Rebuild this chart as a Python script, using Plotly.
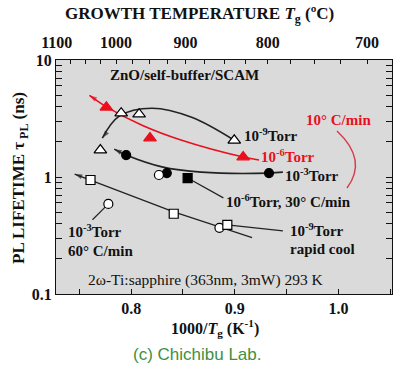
import plotly.graph_objects as go

# ---- data (1000/Tg in K^-1, PL lifetime in ns) ----
tri_open_x = [0.7703, 0.7904, 0.8077, 0.8995]
tri_open_y = [1.70, 3.51, 3.44, 2.06]
tri_red_x = [0.7761, 0.8182, 0.9081]
tri_red_y = [3.94, 2.15, 1.48]
circ_fill_x = [0.7952, 0.8344, 0.9330]
circ_fill_y = [1.54, 1.08, 1.08]
circ_open_x = [0.8268, 0.778, 0.8852]
circ_open_y = [1.04, 0.589, 0.368]
sq_fill_x = [0.8545]
sq_fill_y = [0.98]
sq_open_x = [0.7608, 0.8411, 0.8928]
sq_open_y = [0.943, 0.485, 0.390]

# guide curves (drawn right -> left so the arrow ends at the left)
curve9_x = [0.8995, 0.8584, 0.8201, 0.7885, 0.7722]
curve9_y = [2.06, 3.24, 3.87, 3.31, 2.15]
curve6_x = [0.9234, 0.9081, 0.8488, 0.8105, 0.7770, 0.7598]
curve6_y = [1.395, 1.48, 2.06, 2.77, 3.94, 4.99]
curve3_x = [0.9464, 0.9330, 0.8679, 0.8297, 0.7952, 0.7837]
curve3_y = [1.10, 1.08, 1.10, 1.22, 1.54, 1.73]
curveR_x = [0.9167, 0.8411, 0.7455]
curveR_y = [0.303, 0.504, 1.06]

# label leader lines
leaders = [
    ([0.8545, 0.889], [0.98, 0.663]),
    ([0.8928, 0.9464], [0.390, 0.347]),
    ([0.7761, 0.7627], [0.566, 0.431]),
]

top_temps = [1100, 1075, 1050, 1025, 1000, 975, 950, 925, 900, 875, 850, 825, 800, 775, 750, 725, 700]
top_labels = {1100: "1100", 1000: "1000", 900: "900", 800: "800", 700: "700"}

SERIF = "Liberation Serif, Times New Roman, serif"
RED = "#e8101e"

fig = go.Figure()


def curve(xs, ys, color, width=1.6, shape="spline"):
    n = len(xs)
    fig.add_trace(go.Scatter(
        x=xs, y=ys, mode="lines+markers", line=dict(color=color, width=width, shape=shape),
        marker=dict(symbol="arrow", angleref="previous", size=[0] * (n - 1) + [8], color=color,
                    line=dict(width=0)),
        hoverinfo="skip", showlegend=False))


curve(curve9_x, curve9_y, "#222")
curve(curve6_x, curve6_y, RED)
curve(curve3_x, curve3_y, "#222")
curve(curveR_x, curveR_y, "#222", 1.3, "linear")
for lx, ly in leaders:
    fig.add_trace(go.Scatter(x=lx, y=ly, mode="lines", line=dict(color="#222", width=1.2),
                             hoverinfo="skip", showlegend=False))


def pts(xs, ys, symbol, fill, size=10, lc="#000"):
    fig.add_trace(go.Scatter(x=xs, y=ys, mode="markers",
                             marker=dict(symbol=symbol, size=size, color=fill, line=dict(color=lc, width=1.2)),
                             showlegend=False))


pts(tri_open_x, tri_open_y, "triangle-up", "white", 11)
pts(tri_red_x, tri_red_y, "triangle-up", RED, 11, RED)
pts(circ_fill_x, circ_fill_y, "circle", "black", 9)
pts(circ_open_x, circ_open_y, "circle", "white", 9)
pts(sq_fill_x, sq_fill_y, "square", "black", 9)
pts(sq_open_x, sq_open_y, "square", "white", 9)

# invisible trace to activate the top axis
fig.add_trace(go.Scatter(x=[0.8], y=[1], xaxis="x2", mode="markers", marker=dict(opacity=0),
                         hoverinfo="skip", showlegend=False))

tick_font = dict(family=SERIF, size=16, color="#111", weight="bold")
XR = [0.7275, 1.0517]

fig.update_layout(
    width=400, height=367,
    margin=dict(l=56, r=8, t=60, b=73),
    paper_bgcolor="white", plot_bgcolor="#dadada",
    xaxis=dict(range=XR, tickvals=[0.75, 0.8, 0.85, 0.9, 0.95, 1.0, 1.05],
               ticktext=["", "0.8", "", "0.9", "", "1.0", ""],
               ticks="inside", ticklen=5, tickcolor="#111", showgrid=False, zeroline=False,
               showline=True, linecolor="#111", linewidth=1.2, mirror=True, tickfont=tick_font),
    xaxis2=dict(range=XR, overlaying="x", side="top",
                tickvals=[1000.0 / (t + 273.15) for t in top_temps],
                ticktext=[top_labels.get(t, "") for t in top_temps],
                ticks="inside", ticklen=4, tickcolor="#111", showgrid=False, zeroline=False,
                tickfont=tick_font, ticklabelstandoff=8),
    yaxis=dict(type="log", range=[-1, 1], tickvals=[0.1, 1, 10], ticktext=["0.1", "1", "10"],
               ticks="inside", ticklen=6, tickcolor="#111", showgrid=False, zeroline=False,
               showline=True, linecolor="#111", linewidth=1.2, mirror="allticks", tickfont=tick_font,
               minor=dict(ticks="inside", ticklen=3, tickcolor="#111", dtick="D1", showgrid=False)),
)

ann_font = dict(family=SERIF, size=15, color="#111", weight="bold")
red_font = dict(family=SERIF, size=15, color=RED, weight="bold")


def px2p(x, y):
    return (x - 56) / 336.0, (294 - y) / 234.0


def label(text, x, y, font, xanchor="left", **kw):
    px, py = px2p(x, y)
    fig.add_annotation(text=text, x=px, y=py, xref="paper", yref="paper", showarrow=False,
                       xanchor=xanchor, yanchor="middle", font=font, **kw)


label("GROWTH TEMPERATURE <i>T</i><sub>g</sub> (ºC)", 199, 15, dict(family=SERIF, size=17, color="#111", weight="bold"), "center")
label("ZnO/self-buffer/SCAM", 184, 75, dict(family=SERIF, size=15, color="#111", weight="bold"), "center")
label("10<sup>-9</sup>Torr", 242, 135, ann_font)
label("10<sup>-6</sup>Torr", 259, 156, red_font)
label("10<sup>-3</sup>Torr", 283, 175, ann_font)
label("10° C/min", 304, 120, red_font)
label("10<sup>-6</sup>Torr, 30° C/min", 224, 201, ann_font)
label("10<sup>-9</sup>Torr", 288, 230, ann_font)
label("rapid cool", 288, 249, ann_font)
label("10<sup>-3</sup>Torr", 66, 231, ann_font)
label("60° C/min", 66, 251, ann_font)
label("2ω-Ti:sapphire (363nm, 3mW) 293 K", 206, 280, dict(family=SERIF, size=15.5, color="#111"), "center")
label("1000/<i>T</i><sub>g</sub> (K<sup>-1</sup>)", 215, 328, dict(family=SERIF, size=16, color="#111", weight="bold"), "center")
label("(c) Chichibu Lab.", 197, 354, dict(family="Liberation Sans, Arial, sans-serif", size=17, color="#3f8f3f"), "center")
label("PL LIFETIME τ<sub> PL</sub> (ns)", 20, 178, dict(family=SERIF, size=17, color="#111", weight="bold"), "center", textangle=-90)

# red arc for 10°C/min
a0 = px2p(337, 131)
a1 = px2p(347, 188)
c = px2p(368, 160)
fig.add_shape(type="path", xref="paper", yref="paper",
              path=f"M {a0[0]},{a0[1]} Q {c[0]},{c[1]} {a1[0]},{a1[1]}",
              line=dict(color="#d83a4a", width=1.4))

fig.write_html("out.html", config={"displayModeBar": False},
               post_script="document.body.style.margin='0';")
